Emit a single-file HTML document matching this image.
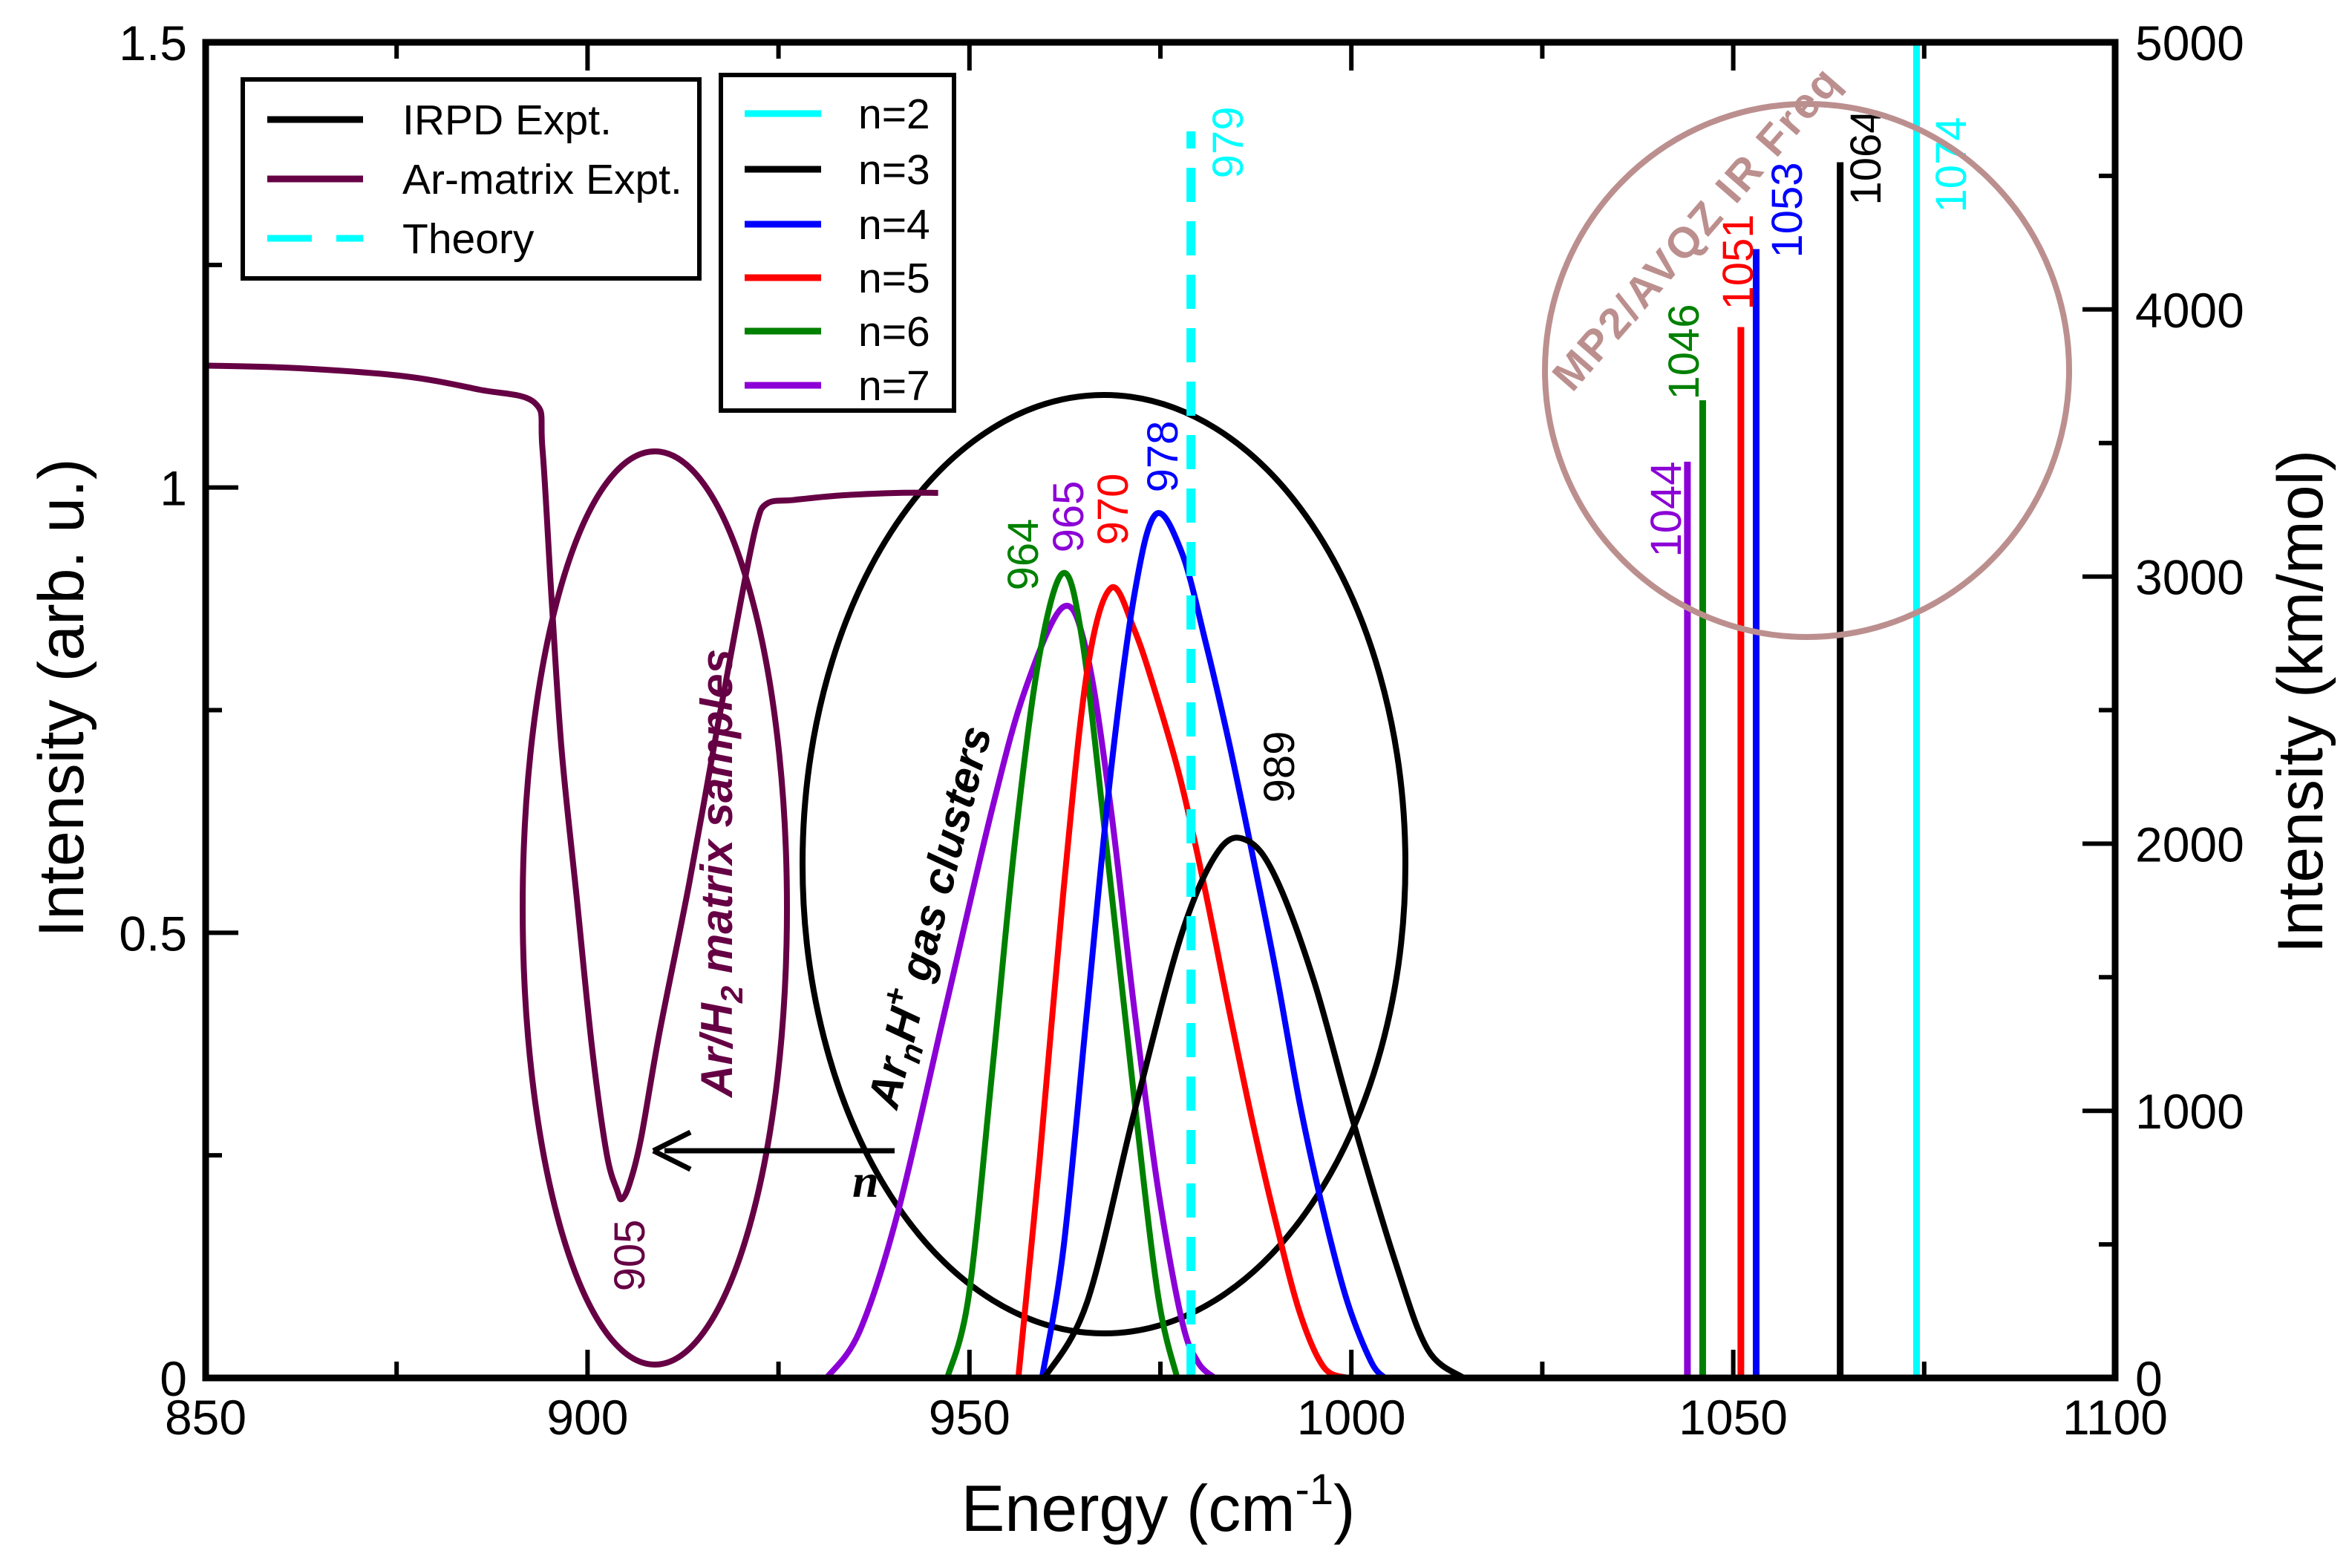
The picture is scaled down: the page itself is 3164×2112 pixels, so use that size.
<!DOCTYPE html>
<html><head><meta charset="utf-8"><style>
html,body{margin:0;padding:0;background:#fff;}
svg{display:block;font-family:"Liberation Sans",sans-serif;}
</style></head><body>
<svg id="chart" width="3164" height="2112" viewBox="0 0 3164 2112" xmlns="http://www.w3.org/2000/svg">
<g id="plot"></g>
</svg>
<script>
// ---- data ----
const xTicks = [850, 900, 950, 1000, 1050, 1100];
const yLeftTicks = [0, 0.5, 1, 1.5];
const yLeftTickLabels = ["0", "0.5", "1", "1.5"];
const yRightTicks = [0, 1000, 2000, 3000, 4000, 5000];
const matrixX = [850,862.3,876,885.8,893.1,894.1,895.3,896.6,898.6,900.6,902.5,903.9,904.5,905.5,907,909.4,913.3,917.2,920.1,922.1,923.5,927,932.9,940.8,945.9];
const matrixY = [1.137,1.134,1.125,1.110,1.095,1.043,0.874,0.706,0.538,0.370,0.252,0.210,0.201,0.218,0.269,0.387,0.555,0.740,0.874,0.958,0.982,0.986,0.991,0.994,0.994];
const n7X = [931.3,935.6,940.6,946.8,953.0,957.3,962.3,965.4,968.5,971.6,974.7,977.8,979.9,982.1];
const n7Y = [0,0.052,0.185,0.413,0.640,0.773,0.866,0.813,0.640,0.413,0.212,0.065,0.018,0];
const n6X = [947.1,949.9,953,956.1,959.2,962.3,964.8,967.9,971.6,974.7,977.2];
const n6Y = [0,0.092,0.346,0.613,0.813,0.904,0.827,0.600,0.312,0.092,0];
const n5X = [956.4,959.2,962.3,965.4,968.5,971.6,974.7,977.8,980.9,984.0,987.1,990.2,993.3,996.4,999.5];
const n5Y = [0,0.246,0.546,0.793,0.887,0.840,0.760,0.666,0.546,0.413,0.286,0.172,0.072,0.012,0];
const n4X = [959.5,962.3,965.4,968.5,971.6,974.4,977.8,980.9,984.0,987.1,990.2,993.3,996.4,999.5,1002.6,1004.4];
const n4Y = [0,0.145,0.413,0.680,0.880,0.970,0.927,0.827,0.713,0.586,0.453,0.306,0.185,0.085,0.018,0];
const n3X = [959.8,965.4,971.6,977.8,982.7,986.5,990.2,995.1,1000.1,1005.7,1010,1014.7];
const n3Y = [0,0.085,0.299,0.499,0.593,0.603,0.560,0.446,0.292,0.132,0.032,0];
const theoryX = [979];
const theoryY = [1.4];
const stickFreq = [1044, 1046, 1051, 1053, 1064, 1074];
const stickInt = [3430, 3660, 3934, 4226, 4551, 5000];
const stickLabels = ["1044","1046","1051","1053","1064","1074"];
const peakLabels = ["964","965","970","978","989"];

// ---- axes ----
const X0=277, X1=2849, Y0=1856, Y1=57;
const sx = v => X0 + (v-850)*(X1-X0)/250;
const syL = v => Y0 - v*(Y0-Y1)/1.5;
const syR = v => Y0 - v*(Y0-Y1)/5000;
const NS="http://www.w3.org/2000/svg";
const plot=document.getElementById('plot');
function mk(tag, attrs, parent){const e=document.createElementNS(NS,tag);for(const k in attrs)e.setAttribute(k,attrs[k]);(parent||plot).appendChild(e);return e;}
function txt(s, attrs){const e=mk('text',attrs);e.textContent=s;return e;}
function smooth(xs, ys, fy){
  const p=xs.map((x,i)=>[sx(x),fy(ys[i])]);
  let d=`M${p[0][0]},${p[0][1]}`;
  for(let i=0;i<p.length-1;i++){
    const p0=p[i-1]||p[i],p1=p[i],p2=p[i+1],p3=p[i+2]||p2;
    const c1=[p1[0]+(p2[0]-p0[0])/6,p1[1]+(p2[1]-p0[1])/6];
    const c2=[p2[0]-(p3[0]-p1[0])/6,p2[1]-(p3[1]-p1[1])/6];
    d+=` C${c1[0]},${c1[1]} ${c2[0]},${c2[1]} ${p2[0]},${p2[1]}`;
  }
  return d;
}
const LF=58;

// annotation ellipses (behind)
let e;
e=mk('ellipse',{cx:882,cy:1223,rx:178,ry:615,fill:'none',stroke:'#660044','stroke-width':8});


e=mk('ellipse',{cx:1487,cy:1164,rx:406,ry:632,fill:'none',stroke:'#000','stroke-width':8});



// matrix curve
e=mk('path',{d:smooth(matrixX,matrixY,syL),fill:'none',stroke:'#660044','stroke-width':8,'stroke-linejoin':'round'});



const series=[[n7X,n7Y,'#8b00d6','n7-curve'],[n6X,n6Y,'#008000','n6-curve'],[n5X,n5Y,'#ff0000','n5-curve'],[n4X,n4Y,'#0000ff','n4-curve'],[n3X,n3Y,'#000000','n3-curve']];
series.forEach(s=>{
  const el=mk('path',{d:smooth(s[0],s[1],syL),fill:'none',stroke:s[2],'stroke-width':8});
  
  
});

// theory dashed line
theoryX.forEach((f,i)=>{
  const el=mk('line',{x1:sx(f),x2:sx(f),y1:Y0,y2:syL(theoryY[i]),stroke:'#00ffff','stroke-width':12,'stroke-dasharray':'46,26'});
  
  
  const t=txt('979',{x:0,y:0,fill:'#00ffff','font-size':LF,transform:`translate(${sx(f)+70},${syL(theoryY[i])+15}) rotate(-90)`,'text-anchor':'middle'});
  
  
});

// sticks
const stickColors=['#8b00d6','#008000','#ff0000','#0000ff','#000000','#00ffff'];
const stickLabPos=[[2264,686],[2288,474],[2361,353],[2427,283],[2533,212],[2648,222]];
stickFreq.forEach((f,i)=>{
  const el=mk('line',{x1:sx(f),x2:sx(f),y1:Y0,y2:syR(stickInt[i]),stroke:stickColors[i],'stroke-width':9});
  
  
  const t=txt(stickLabels[i],{x:0,y:0,fill:stickColors[i],'font-size':LF,transform:`translate(${stickLabPos[i][0]},${stickLabPos[i][1]}) rotate(-90)`,'text-anchor':'middle'});
  
  
});

// peak labels
const peakPos=[[1398,747,'#008000'],[1459,696,'#8b00d6'],[1519,686,'#ff0000'],[1586,615,'#0000ff'],[1743,1033,'#000']];
peakLabels.forEach((l,i)=>{
  const t=txt(l,{x:0,y:0,fill:peakPos[i][2],'font-size':LF,transform:`translate(${peakPos[i][0]},${peakPos[i][1]}) rotate(-90)`,'text-anchor':'middle'});
  
  
});

// MP2 ellipse
e=mk('ellipse',{cx:2434,cy:499,rx:353,ry:359,fill:'none',stroke:'#bc8f8f','stroke-width':8});


e=txt('MP2/AVQZ  IR Freq',{x:0,y:0,fill:'#bc8f8f','font-size':58,'font-weight':'bold','letter-spacing':3,transform:'translate(2300,320) rotate(-49)','text-anchor':'middle'});



// annotations
e=mk('text',{x:0,y:0,fill:'#660044','font-size':60,'font-weight':'bold','font-style':'italic',transform:'translate(986,1176) rotate(-90)','text-anchor':'middle'});
e.innerHTML='Ar/H<tspan font-size="42" dy="14">2</tspan><tspan dy="-14"> matrix samples</tspan>';


e=mk('text',{x:0,y:0,fill:'#000','font-size':60,'font-weight':'bold','font-style':'italic',transform:'translate(1272,1240) rotate(-76)','text-anchor':'middle'});
e.innerHTML='Ar<tspan font-size="42" dy="14">n</tspan><tspan dy="-14">H</tspan><tspan font-size="42" dy="-26">+</tspan><tspan dy="26"> gas clusters</tspan>';


e=txt('905',{x:0,y:0,fill:'#660044','font-size':LF,transform:'translate(868,1691) rotate(-90)','text-anchor':'middle'});


e=mk('line',{x1:1205,y1:1550,x2:895,y2:1550,stroke:'#000','stroke-width':7});


e=mk('path',{d:'M880,1550 L930,1525 M880,1550 L930,1575',stroke:'#000','stroke-width':7,fill:'none'});


e=txt('n',{x:1148,y:1612,'font-family':'Liberation Serif,serif','font-size':64,'font-weight':'bold','font-style':'italic'});



// frame
e=mk('rect',{x:X0,y:Y1,width:X1-X0,height:Y0-Y1,fill:'none',stroke:'#000','stroke-width':9});



// x ticks
for(let v=850;v<=1100;v+=25){
  const maj=(v%50===0), L=maj?38:22;
  mk('line',{x1:sx(v),x2:sx(v),y1:Y0,y2:Y0-L,stroke:'#000','stroke-width':6});
  mk('line',{x1:sx(v),x2:sx(v),y1:Y1,y2:Y1+L,stroke:'#000','stroke-width':6});
}
xTicks.forEach(v=>{
  const t=txt(String(v),{x:sx(v),y:1932,'font-size':66,'text-anchor':'middle'});
  
  
});
// left ticks
for(let v=0;v<=1.5001;v+=0.25){
  const maj=(Math.round(v*4)%2===0), L=maj?44:22;
  mk('line',{x1:X0,x2:X0+L,y1:syL(v),y2:syL(v),stroke:'#000','stroke-width':6});
}
yLeftTicks.forEach((v,i)=>{
  const t=txt(yLeftTickLabels[i],{x:252,y:syL(v)+24,'font-size':66,'text-anchor':'end'});
  
  
});
// right ticks
for(let v=0;v<=5000;v+=500){
  const maj=(v%1000===0), L=maj?44:22;
  mk('line',{x1:X1,x2:X1-L,y1:syR(v),y2:syR(v),stroke:'#000','stroke-width':6});
}
yRightTicks.forEach(v=>{
  const t=txt(String(v),{x:2876,y:syR(v)+24,'font-size':66});
  
  
});

// axis titles
e=mk('text',{x:1560,y:2062,'font-size':88,'text-anchor':'middle'});
e.innerHTML='Energy (cm<tspan font-size="58" dy="-36">-1</tspan><tspan dy="36">)</tspan>';


e=txt('Intensity (arb. u.)',{x:0,y:0,'font-size':86,transform:'translate(112,940) rotate(-90)','text-anchor':'middle'});


e=txt('Intensity (km/mol)',{x:0,y:0,'font-size':86,transform:'translate(3128,945) rotate(-90)','text-anchor':'middle'});



// legend 1
const leg1Names=['IRPD Expt.','Ar-matrix Expt.','Theory'];
const leg1Colors=['#000','#660044','#00ffff'];
const leg1Y=[161,241,321];
e=mk('rect',{x:327,y:107,width:615,height:268,fill:'#fff',stroke:'#000','stroke-width':6});


leg1Names.forEach((n,i)=>{
  const l=mk('line',{x1:360,x2:489,y1:leg1Y[i],y2:leg1Y[i],stroke:leg1Colors[i],'stroke-width':9});
  if(i==2) l.setAttribute('stroke-dasharray','60,33');
  
  
  const t=txt(n,{x:542,y:leg1Y[i]+20,'font-size':57});
  
  
});
// legend 2
const leg2Names=['n=2','n=3','n=4','n=5','n=6','n=7'];
const leg2Colors=['#00ffff','#000','#0000ff','#ff0000','#008000','#8b00d6'];
const leg2Y=[153,228,302,374,446,519];
e=mk('rect',{x:971,y:101,width:314,height:452,fill:'#fff',stroke:'#000','stroke-width':6});


leg2Names.forEach((n,i)=>{
  const l=mk('line',{x1:1003,x2:1106,y1:leg2Y[i],y2:leg2Y[i],stroke:leg2Colors[i],'stroke-width':9});
  
  
  const t=txt(n,{x:1156,y:leg2Y[i]+20,'font-size':57});
  
  
});
</script>
</body></html>
